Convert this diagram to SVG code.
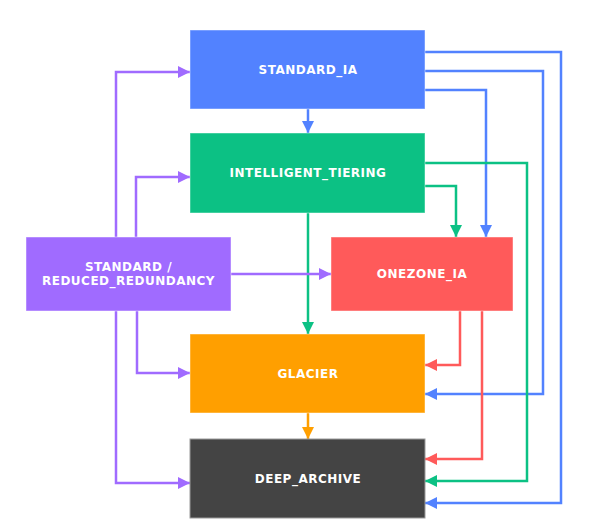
<svg xmlns="http://www.w3.org/2000/svg" width="592" height="530" viewBox="0 0 592 530">
  <style>
    .node { stroke: rgba(255,255,255,0.45); stroke-width: 1; }
    .label { font-family: "DejaVu Sans", Verdana, sans-serif; font-weight: bold; font-size: 12px; fill: #ffffff; text-anchor: middle; dominant-baseline: central; letter-spacing: 0.5px; }
    .edge { fill: none; stroke-width: 2.5; }
    .blue { stroke: #5282ff; }
    .green { stroke: #0cc184; }
    .red { stroke: #ff5a5a; }
    .orange { stroke: #ff9f00; }
    .purple { stroke: #a06bff; }
  </style>
  <defs>
    <marker id="ah-blue" markerUnits="userSpaceOnUse" markerWidth="12" markerHeight="12" refX="12" refY="6" orient="auto"><path d="M0,0 L12,6 L0,12 z" fill="#5282ff"/></marker>
    <marker id="ah-green" markerUnits="userSpaceOnUse" markerWidth="12" markerHeight="12" refX="12" refY="6" orient="auto"><path d="M0,0 L12,6 L0,12 z" fill="#0cc184"/></marker>
    <marker id="ah-red" markerUnits="userSpaceOnUse" markerWidth="12" markerHeight="12" refX="12" refY="6" orient="auto"><path d="M0,0 L12,6 L0,12 z" fill="#ff5a5a"/></marker>
    <marker id="ah-orange" markerUnits="userSpaceOnUse" markerWidth="12" markerHeight="12" refX="12" refY="6" orient="auto"><path d="M0,0 L12,6 L0,12 z" fill="#ff9f00"/></marker>
    <marker id="ah-purple" markerUnits="userSpaceOnUse" markerWidth="12" markerHeight="12" refX="12" refY="6" orient="auto"><path d="M0,0 L12,6 L0,12 z" fill="#a06bff"/></marker>
  </defs>

  <rect width="592" height="530" fill="#ffffff"/>

  <g id="connectors">
    <!-- from STANDARD_IA -->
    <path class="edge blue" d="M308,109 V133" marker-end="url(#ah-blue)"/>
    <path class="edge blue" d="M425,90 H486 V237" marker-end="url(#ah-blue)"/>
    <path class="edge blue" d="M425,71 H543 V394 H425" marker-end="url(#ah-blue)"/>
    <path class="edge blue" d="M425,52 H561 V503 H425" marker-end="url(#ah-blue)"/>
    <!-- from INTELLIGENT_TIERING -->
    <path class="edge green" d="M308,213 V334" marker-end="url(#ah-green)"/>
    <path class="edge green" d="M425,186 H456 V237" marker-end="url(#ah-green)"/>
    <path class="edge green" d="M425,163 H527 V481 H425" marker-end="url(#ah-green)"/>
    <!-- from ONEZONE_IA -->
    <path class="edge red" d="M460,311 V365 H425" marker-end="url(#ah-red)"/>
    <path class="edge red" d="M482,311 V459 H425" marker-end="url(#ah-red)"/>
    <!-- from GLACIER -->
    <path class="edge orange" d="M308,413 V439" marker-end="url(#ah-orange)"/>
    <!-- from STANDARD / REDUCED_REDUNDANCY -->
    <path class="edge purple" d="M116,237 V72 H190" marker-end="url(#ah-purple)"/>
    <path class="edge purple" d="M136,237 V177 H190" marker-end="url(#ah-purple)"/>
    <path class="edge purple" d="M231,274 H331" marker-end="url(#ah-purple)"/>
    <path class="edge purple" d="M137,311 V373 H190" marker-end="url(#ah-purple)"/>
    <path class="edge purple" d="M116,311 V483 H190" marker-end="url(#ah-purple)"/>
  </g>

  <g id="standard_ia">
    <rect class="node" x="190" y="30" width="235" height="79" fill="#5282ff"/>
    <text class="label" x="308" y="69.5">STANDARD_IA</text>
  </g>
  <g id="intelligent_tiering">
    <rect class="node" x="190" y="133" width="235" height="80" fill="#0cc184"/>
    <text class="label" x="308" y="173">INTELLIGENT_TIERING</text>
  </g>
  <g id="standard_rr">
    <rect class="node" x="26" y="237" width="205" height="74" fill="#a06bff"/>
    <text class="label" x="128.5" y="267">STANDARD /</text>
    <text class="label" x="128.5" y="281">REDUCED_REDUNDANCY</text>
  </g>
  <g id="onezone_ia">
    <rect class="node" x="331" y="237" width="182" height="74" fill="#ff5a5a"/>
    <text class="label" x="422" y="274">ONEZONE_IA</text>
  </g>
  <g id="glacier">
    <rect class="node" x="190" y="334" width="235" height="79" fill="#ff9f00"/>
    <text class="label" x="308" y="373.5">GLACIER</text>
  </g>
  <g id="deep_archive">
    <rect x="190" y="439" width="235" height="79" fill="#444444" stroke="#9a9a9a" stroke-width="1"/>
    <text class="label" x="308" y="478.5">DEEP_ARCHIVE</text>
  </g>
</svg>
